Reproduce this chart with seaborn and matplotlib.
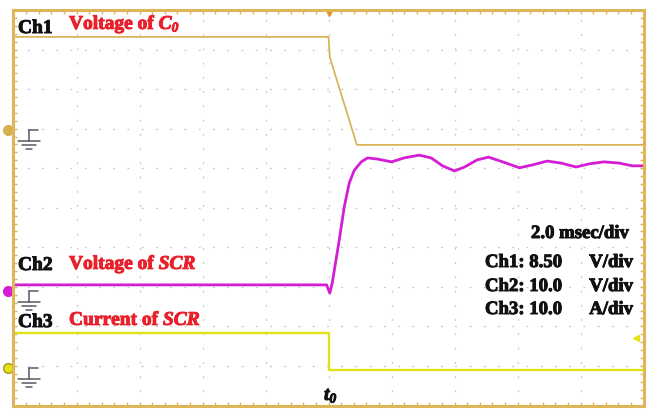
import numpy as np
import pandas as pd
import matplotlib
matplotlib.use("Agg")
import matplotlib.pyplot as plt
import matplotlib.patheffects as pe
import seaborn as sns

# ---- data, in screen divisions (10 x 10 grid) ----
ch1_t = [0.0, 5.00, 5.02, 5.45, 10.0]
ch1_v = [9.32, 9.32, 8.81, 6.59, 6.59]

ch2_t = [0.00, 4.97, 5.02, 5.06, 5.17, 5.25, 5.33, 5.41, 5.52, 5.62, 5.78,
         6.00, 6.20, 6.44, 6.63, 6.81, 7.00, 7.16, 7.36, 7.54, 7.82, 8.03,
         8.23, 8.47, 8.69, 8.93, 9.14, 9.37, 9.61, 9.82, 10.0]
ch2_v = [3.05, 3.05, 2.84, 3.10, 4.18, 5.02, 5.63, 5.95, 6.16, 6.26, 6.23,
         6.16, 6.26, 6.33, 6.26, 6.06, 5.93, 6.03, 6.21, 6.28, 6.13, 6.01,
         6.08, 6.18, 6.13, 6.03, 6.11, 6.16, 6.13, 6.06, 6.06]

ch3_t = [0.0, 5.00, 5.00, 10.0]
ch3_v = [1.83, 1.83, 0.90, 0.90]

ground_levels = [6.97, 2.90, 0.95]
channel_names = ["Ch1", "Ch2", "Ch3"]
channel_titles = [r"Voltage of $C_0$", r"Voltage of $SCR$", r"Current of $SCR$"]
time_scale = "2.0 msec/div"
scale_names = ["Ch1: 8.50", "Ch2: 10.0", "Ch3: 10.0"]
scale_units = ["V/div", "V/div", "A/div"]
trigger_label = r"$t_0$"
trigger_time = 5.0

colors = ["#d9b04e", "#d41ed4", "#e2e21a"]
frame_color = "#dfb55a"
red = "#e8202a"

sns.set_style("white")
plt.rcParams["font.family"] = ["Liberation Serif", "DejaVu Serif"]
plt.rcParams["mathtext.fontset"] = "custom"
plt.rcParams["mathtext.it"] = "Liberation Serif:italic:bold"
plt.rcParams["mathtext.rm"] = "Liberation Serif:italic:bold"

W, H = 652, 411
fig = plt.figure(figsize=(W / 100, H / 100), dpi=100)
ax = fig.add_axes([13.5 / W, 5.5 / H, 630 / W, 395.5 / H])

df1 = pd.DataFrame({"t": ch1_t, "v": ch1_v})
df2 = pd.DataFrame({"t": ch2_t, "v": ch2_v})
df3 = pd.DataFrame({"t": ch3_t, "v": ch3_v})
sns.lineplot(data=df1, x="t", y="v", sort=False, estimator=None, color=colors[0], lw=1.2, ax=ax)
sns.lineplot(data=df3, x="t", y="v", sort=False, estimator=None, color=colors[2], lw=1.7, ax=ax)
sns.lineplot(data=df2, x="t", y="v", sort=False, estimator=None, color=colors[1], lw=2.0, ax=ax)

ax.set_xlim(0, 10)
ax.set_ylim(0, 10)
ax.set_xlabel("")
ax.set_ylabel("")
ax.set_xticks(np.arange(0, 10.01, 1))
ax.set_yticks(np.arange(0, 10.01, 1))
ax.set_xticks(np.arange(0, 10.01, 0.2), minor=True)
ax.set_yticks(np.arange(0, 10.01, 0.2), minor=True)
ax.tick_params(which="both", direction="in", length=3, width=1.0, color=frame_color,
               top=True, right=True, bottom=True, left=True,
               labelbottom=False, labelleft=False)
ax.grid(True, which="major", color="#c8c8c8", lw=0.9, linestyle=(0, (1.5, 9.9)))
for s in ax.spines.values():
    s.set_color(frame_color)
    s.set_linewidth(2.2)

# ground symbols and channel markers
px_x = 10 / 630  # divisions per pixel
px_y = 10 / 395.5
for g, c in zip(ground_levels, colors):
    segs = [([29, 38], [0, 0]), ([29, 29], [0, 11]), ([18, 40], [11, 11]),
            ([22, 36], [15.5, 15.5]), ([26, 32], [19.5, 19.5])]
    for xs, ys in segs:
        ax.plot([(x - 13.5) * px_x for x in xs], [g - y * px_y for y in ys],
                color="#5a5a5a", lw=1.1, clip_on=False)
    ax.plot([(8 - 13.5) * px_x], [g], marker="o", ms=7, color=c,
            mec="#b09020" if c == colors[2] else c, clip_on=False)

ax.plot([trigger_time], [10 - 3 * px_y], marker="v", ms=5, color="#e09020", clip_on=False)
ax.plot([(636 - 13.5) * px_x], [(405.5 - 338) * px_y], marker="<", ms=4,
        color=colors[2], clip_on=False)


def fpos(x, y):
    return x / W, 1 - y / H


def heavy(col):
    return [pe.withStroke(linewidth=0.7, foreground=col)]


fs = 14
label_rows = [(33, 29), (270, 269), (327, 325)]
for name, title, (yb1, yb2) in zip(channel_names, channel_titles, label_rows):
    fig.text(*fpos(18, yb1), name, color="#111111", fontsize=fs, fontweight="bold",
             va="baseline", path_effects=heavy("#111111"))
    fig.text(*fpos(69, yb2), title, color=red, fontsize=fs, fontweight="bold",
             va="baseline", path_effects=heavy(red))

fig.text(*fpos(629, 238), time_scale, color="#111111", fontsize=13.5, fontweight="bold",
         va="baseline", ha="right", path_effects=heavy("#111111"))
for nm, un, yb in zip(scale_names, scale_units, [267, 291, 314]):
    fig.text(*fpos(485, yb), nm, color="#111111", fontsize=13.5, fontweight="bold",
             va="baseline", path_effects=heavy("#111111"))
    fig.text(*fpos(633, yb), un, color="#111111", fontsize=13.5, fontweight="bold",
             va="baseline", ha="right", path_effects=heavy("#111111"))

fig.text(*fpos(331, 400), trigger_label, color="#111111", fontsize=14, va="baseline",
         ha="center", path_effects=heavy("#111111"))

fig.savefig("out.png", dpi=100)
